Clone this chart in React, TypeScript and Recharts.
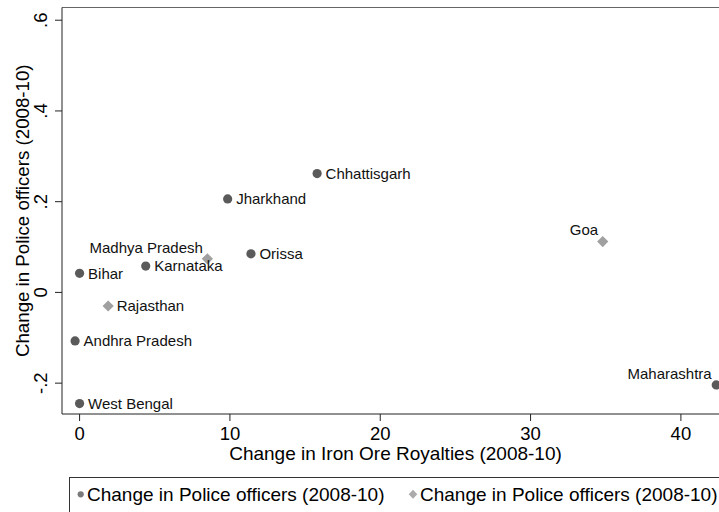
import React from 'react';
import { ScatterChart, Scatter, XAxis, YAxis, ReferenceLine, Label } from 'recharts';

// states drawn with a dark circle
const circleStates = ['Bihar', 'Karnataka', 'Jharkhand', 'Orissa', 'Chhattisgarh', 'Andhra Pradesh', 'West Bengal', 'Maharashtra'];
const circleRoyalty = [0.0, 4.4, 9.85, 11.4, 15.8, -0.3, 0.0, 42.35];
const circlePolice = [0.042, 0.058, 0.206, 0.085, 0.262, -0.107, -0.245, -0.204];

// states drawn with a light diamond
const diamondStates = ['Madhya Pradesh', 'Rajasthan', 'Goa'];
const diamondRoyalty = [8.5, 1.9, 34.8];
const diamondPolice = [0.074, -0.03, 0.112];

const xTicks = [0, 10, 20, 30, 40];
const yTicks = [-0.2, 0, 0.2, 0.4, 0.6];
const X_DOMAIN: [number, number] = [-1.17, 43.2];
const Y_DOMAIN: [number, number] = [-0.268, 0.628];

const seriesName = 'Change in Police officers (2008-10)';
const xTitle = 'Change in Iron Ore Royalties (2008-10)';
const yTitle = 'Change in Police officers (2008-10)';

// labels placed at 11 o'clock instead of 3 o'clock
const upperLeftLabels = ['Madhya Pradesh', 'Goa', 'Maharashtra'];

const FONT = '"Liberation Sans", Arial, sans-serif';
const DARK = '#5a5a5a';
const LIGHT = '#a0a0a0';

const circleData = circleStates.map((s, i) => ({ state: s, x: circleRoyalty[i], y: circlePolice[i] }));
const diamondData = diamondStates.map((s, i) => ({ state: s, x: diamondRoyalty[i], y: diamondPolice[i] }));

const fmtY = (v: number) => (v === 0 ? '0' : (v < 0 ? '-' : '') + String(Math.abs(v)).replace(/^0/, ''));

const PointLabel = ({ cx, cy, name }: any) => {
  const ul = upperLeftLabels.includes(name);
  return (
    <text
      x={ul ? cx - 4.5 : cx + 8.5}
      y={ul ? cy - 11.5 : cy}
      dy="0.35em"
      textAnchor={ul ? 'end' : 'start'}
      fontSize={15}
      fontFamily={FONT}
      fill="#111"
    >
      {name}
    </text>
  );
};

const CircleShape = (props: any) => {
  const { cx, cy, payload } = props;
  return (
    <g>
      <circle cx={cx} cy={cy} r={4.6} fill={DARK} />
      <PointLabel cx={cx} cy={cy} name={payload.state} />
    </g>
  );
};

const DiamondShape = (props: any) => {
  const { cx, cy, payload } = props;
  const d = 5.6;
  return (
    <g>
      <polygon points={`${cx},${cy - d} ${cx + d},${cy} ${cx},${cy + d} ${cx - d},${cy}`} fill={LIGHT} />
      <PointLabel cx={cx} cy={cy} name={payload.state} />
    </g>
  );
};

const XTick = ({ x, y, payload }: any) => (
  <text x={x} y={y + 17} textAnchor="middle" fontSize={18.5} fontFamily={FONT} fill="#000">
    {payload.value}
  </text>
);

const YTick = ({ x, y, payload }: any) => (
  <text
    x={x - 6}
    y={y}
    transform={`rotate(-90 ${x - 6} ${y})`}
    textAnchor="middle"
    fontSize={18.5}
    fontFamily={FONT}
    fill="#000"
  >
    {fmtY(payload.value)}
  </text>
);

const XTitle = ({ viewBox }: any) => (
  <text x={viewBox.x + viewBox.width / 2} y={viewBox.y + 46} textAnchor="middle" fontSize={19} fontFamily={FONT} fill="#000">
    {xTitle}
  </text>
);

const YTitle = ({ viewBox }: any) => {
  const x = viewBox.x + 29;
  const y = viewBox.y + viewBox.height / 2;
  return (
    <text x={x} y={y} transform={`rotate(-90 ${x} ${y})`} textAnchor="middle" fontSize={18.7} fontFamily={FONT} fill="#000">
      {yTitle}
    </text>
  );
};

const LegendBox = () => (
  <svg width={719} height={512} style={{ position: 'absolute', left: 0, top: 0, pointerEvents: 'none' }}>
    <rect x={69.5} y={477.5} width={653} height={60} fill="none" stroke="#333" strokeWidth={1} />
    <circle cx={80.7} cy={494.3} r={3.1} fill="#7a7a7a" />
    <text x={87} y={500.8} fontSize={19} fontFamily={FONT} fill="#000">{seriesName}</text>
    <polygon points="413,489.8 417.3,494.3 413,498.8 408.7,494.3" fill="#ababab" />
    <text x={420} y={500.8} fontSize={19} fontFamily={FONT} fill="#000">{seriesName}</text>
  </svg>
);

export default function App() {
  return (
    <div style={{ position: 'absolute', left: 0, top: 0, width: 719, height: 512, overflow: 'hidden', background: '#fff' }}>
      <ScatterChart width={740} height={512} margin={{ top: 7.5, right: 11, bottom: 0, left: 0 }}>
        <XAxis
          type="number"
          dataKey="x"
          domain={X_DOMAIN}
          ticks={xTicks}
          allowDataOverflow
          height={98}
          tickSize={7}
          tickMargin={2}
          stroke="#222"
          tick={<XTick />}
        >
          <Label content={<XTitle />} />
        </XAxis>
        <YAxis
          type="number"
          dataKey="y"
          domain={Y_DOMAIN}
          ticks={yTicks}
          allowDataOverflow
          width={62}
          tickSize={7}
          tickMargin={2}
          stroke="#222"
          tick={<YTick />}
        >
          <Label content={<YTitle />} />
        </YAxis>
        <ReferenceLine y={Y_DOMAIN[1]} stroke="#666" strokeWidth={1.2} />
        <Scatter name={seriesName} data={diamondData} shape={<DiamondShape />} isAnimationActive={false} />
        <Scatter name={seriesName} data={circleData} shape={<CircleShape />} isAnimationActive={false} />
      </ScatterChart>
      <LegendBox />
    </div>
  );
}
